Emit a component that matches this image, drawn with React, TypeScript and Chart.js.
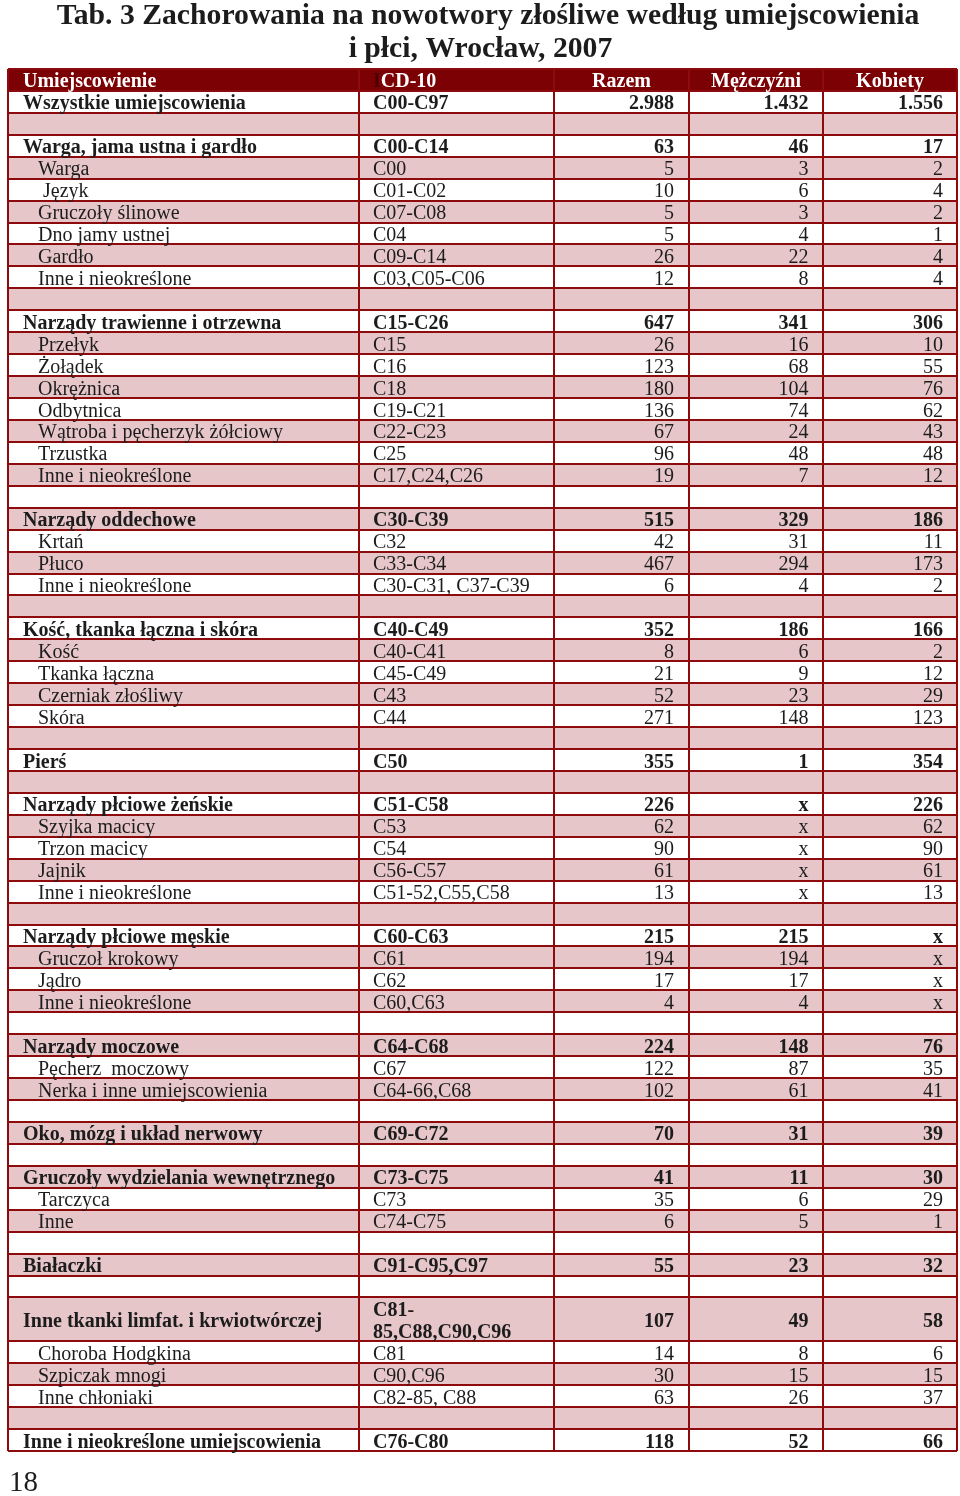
import React, { useEffect, useRef } from "react";
import { Chart, registerables } from "chart.js";

Chart.register(...registerables);

// ---------- data ----------
const TITLE_LINES = [
  "Tab. 3 Zachorowania na nowotwory złośliwe według umiejscowienia",
  "i płci, Wrocław, 2007",
];
const HEADERS = ["Umiejscowienie", "ICD-10", "Razem", "Mężczyźni", "Kobiety"];
const PAGE_NUMBER = "18";

const SITES = [
  "Wszystkie umiejscowienia", "",
  "Warga, jama ustna i gardło", "Warga", " Język", "Gruczoły ślinowe", "Dno jamy ustnej", "Gardło", "Inne i nieokreślone", "",
  "Narządy trawienne i otrzewna", "Przełyk", "Żołądek", "Okrężnica", "Odbytnica", "Wątroba i pęcherzyk żółciowy", "Trzustka", "Inne i nieokreślone", "",
  "Narządy oddechowe", "Krtań", "Płuco", "Inne i nieokreślone", "",
  "Kość, tkanka łączna i skóra", "Kość", "Tkanka łączna", "Czerniak złośliwy", "Skóra", "",
  "Pierś", "",
  "Narządy płciowe żeńskie", "Szyjka macicy", "Trzon macicy", "Jajnik", "Inne i nieokreślone", "",
  "Narządy płciowe męskie", "Gruczoł krokowy", "Jądro", "Inne i nieokreślone", "",
  "Narządy moczowe", "Pęcherz  moczowy", "Nerka i inne umiejscowienia", "",
  "Oko, mózg i układ nerwowy", "",
  "Gruczoły wydzielania wewnętrznego", "Tarczyca", "Inne", "",
  "Białaczki", "",
  "Inne tkanki limfat. i krwiotwórczej", "Choroba Hodgkina", "Szpiczak mnogi", "Inne chłoniaki", "",
  "Inne i nieokreślone umiejscowienia",
];

// 0 = group row, 1 = sub-item, -1 = empty spacer row
const LEVELS = [
  0, -1,
  0, 1, 1, 1, 1, 1, 1, -1,
  0, 1, 1, 1, 1, 1, 1, 1, -1,
  0, 1, 1, 1, -1,
  0, 1, 1, 1, 1, -1,
  0, -1,
  0, 1, 1, 1, 1, -1,
  0, 1, 1, 1, -1,
  0, 1, 1, -1,
  0, -1,
  0, 1, 1, -1,
  0, -1,
  0, 1, 1, 1, -1,
  0,
];

const CODES = [
  "C00-C97", "",
  "C00-C14", "C00", "C01-C02", "C07-C08", "C04", "C09-C14", "C03,C05-C06", "",
  "C15-C26", "C15", "C16", "C18", "C19-C21", "C22-C23", "C25", "C17,C24,C26", "",
  "C30-C39", "C32", "C33-C34", "C30-C31, C37-C39", "",
  "C40-C49", "C40-C41", "C45-C49", "C43", "C44", "",
  "C50", "",
  "C51-C58", "C53", "C54", "C56-C57", "C51-52,C55,C58", "",
  "C60-C63", "C61", "C62", "C60,C63", "",
  "C64-C68", "C67", "C64-66,C68", "",
  "C69-C72", "",
  "C73-C75", "C73", "C74-C75", "",
  "C91-C95,C97", "",
  "C81-\n85,C88,C90,C96", "C81", "C90,C96", "C82-85, C88", "",
  "C76-C80",
];

type Cell = number | "x" | null;

const TOTAL: Cell[] = [
  2988, null,
  63, 5, 10, 5, 5, 26, 12, null,
  647, 26, 123, 180, 136, 67, 96, 19, null,
  515, 42, 467, 6, null,
  352, 8, 21, 52, 271, null,
  355, null,
  226, 62, 90, 61, 13, null,
  215, 194, 17, 4, null,
  224, 122, 102, null,
  70, null,
  41, 35, 6, null,
  55, null,
  107, 14, 30, 63, null,
  118,
];

const MEN: Cell[] = [
  1432, null,
  46, 3, 6, 3, 4, 22, 8, null,
  341, 16, 68, 104, 74, 24, 48, 7, null,
  329, 31, 294, 4, null,
  186, 6, 9, 23, 148, null,
  1, null,
  "x", "x", "x", "x", "x", null,
  215, 194, 17, 4, null,
  148, 87, 61, null,
  31, null,
  11, 6, 5, null,
  23, null,
  49, 8, 15, 26, null,
  52,
];

const WOMEN: Cell[] = [
  1556, null,
  17, 2, 4, 2, 1, 4, 4, null,
  306, 10, 55, 76, 62, 43, 48, 12, null,
  186, 11, 173, 2, null,
  166, 2, 12, 29, 123, null,
  354, null,
  226, 62, 90, 61, 13, null,
  "x", "x", "x", "x", null,
  76, 35, 41, null,
  39, null,
  30, 29, 1, null,
  32, null,
  58, 6, 15, 37, null,
  66,
];

// ---------- layout / style ----------
const COL_EDGES = [0, 351, 546, 681, 815, 949];
const TABLE_W = COL_EDGES[COL_EDGES.length - 1];
const NUM_PAD = [15, 14.5, 14];
const LINE = "#8d0a0d";
const HEAD_BG = "#7c0104";
const PINK = "#e7c6ca";
const INK = "#1c1c1c";
const FONT = '"Liberation Serif", "Times New Roman", serif';

function fmt(v: Cell): string {
  if (v === null) return "";
  if (v === "x") return "x";
  const s = String(v);
  return s.length > 3 ? s.slice(0, s.length - 3) + "." + s.slice(-3) : s;
}

// slot list: header slot, then body rows; a two-line row takes two slots
type Slot = { kind: "header" | "row" | "cont"; row: number };
const SLOTS: Slot[] = [{ kind: "header", row: -1 }];
SITES.forEach((_, r) => {
  SLOTS.push({ kind: "row", row: r });
  if (CODES[r].includes("\n")) SLOTS.push({ kind: "cont", row: r });
});
const SLOT_KEYS = SLOTS.map((s, i) => (s.kind === "header" ? "header" : `${s.kind}-${s.row}-${i}`));

const tablePlugin = {
  id: "tableText",
  afterDraw(chart: any) {
    const { ctx, scales } = chart;
    const x = scales.x;
    const y = scales.y;
    const px = (v: number) => x.getPixelForValue(v);
    const cy = (i: number) => y.getPixelForValue(i);
    ctx.save();

    // title
    ctx.fillStyle = INK;
    ctx.textAlign = "center";
    ctx.textBaseline = "alphabetic";
    ctx.font = `bold 29.7px ${FONT}`;
    ctx.fillText(TITLE_LINES[0], 488, 23.5);
    ctx.fillText(TITLE_LINES[1], 480.5, 57);

    // header
    const hb = cy(0) + 7;
    ctx.font = `bold 20px ${FONT}`;
    ctx.fillStyle = "#ffffff";
    ctx.textAlign = "left";
    ctx.fillText(HEADERS[0], px(COL_EDGES[0]) + 15, hb);
    const icdX = px(COL_EDGES[1]) + 14;
    ctx.fillStyle = "#4a0002";
    ctx.fillText(HEADERS[1].slice(0, 1), icdX, hb);
    const iw = ctx.measureText(HEADERS[1].slice(0, 1)).width;
    ctx.fillStyle = "#ffffff";
    ctx.fillText(HEADERS[1].slice(1), icdX + iw, hb);
    ctx.textAlign = "center";
    for (let k = 2; k < 5; k++) {
      const c = (px(COL_EDGES[k]) + px(COL_EDGES[k + 1])) / 2;
      ctx.fillText(HEADERS[k], c, hb);
    }

    // body
    ctx.fillStyle = INK;
    SLOTS.forEach((s, i) => {
      if (s.kind !== "row") return;
      const r = s.row;
      if (LEVELS[r] < 0) return;
      const bold = LEVELS[r] === 0;
      ctx.font = `${bold ? "bold " : ""}20px ${FONT}`;
      const codeLines = CODES[r].split("\n");
      const base =
        codeLines.length > 1
          ? (cy(i) + cy(i + codeLines.length - 1)) / 2 + 8
          : cy(i) + 7.5;
      ctx.textAlign = "left";
      ctx.fillText(SITES[r], px(COL_EDGES[0]) + (bold ? 15 : 30), base);
      codeLines.forEach((ln, j) => {
        const b = codeLines.length > 1 ? cy(i + j) + 8 : base;
        ctx.fillText(ln, px(COL_EDGES[1]) + 14, b);
      });
      ctx.textAlign = "right";
      [TOTAL, MEN, WOMEN].forEach((arr, k) => {
        ctx.fillText(fmt(arr[r]), px(COL_EDGES[k + 3]) - NUM_PAD[k], base);
      });
    });

    // page number
    ctx.textAlign = "left";
    ctx.font = `29px ${FONT}`;
    ctx.fillText(PAGE_NUMBER, 9, 1491);
    ctx.restore();
  },
};

export default function App() {
  const ref = useRef<HTMLCanvasElement | null>(null);
  useEffect(() => {
    if (!ref.current) return;
    const hiddenLines = SLOTS.map((s, i) => (s.kind === "cont" ? i : -1)).filter((i) => i >= 0);
    const chart = new Chart(ref.current, {
      type: "bar",
      data: {
        labels: SLOT_KEYS,
        datasets: [
          {
            label: "header",
            data: SLOTS.map((s) => (s.kind === "header" ? [0, TABLE_W] : null)) as any,
            backgroundColor: HEAD_BG,
            barPercentage: 1,
            categoryPercentage: 1,
            grouped: false,
            borderWidth: 0,
          },
          {
            label: "stripes",
            data: SLOTS.map((s) => (s.kind !== "header" && s.row % 2 === 1 ? [0, TABLE_W] : null)) as any,
            backgroundColor: PINK,
            barPercentage: 1,
            categoryPercentage: 1,
            grouped: false,
            borderWidth: 0,
          },
        ],
      },
      options: {
        indexAxis: "y",
        animation: false,
        responsive: false,
        maintainAspectRatio: false,
        events: [],
        layout: { padding: { left: 8, right: 3, top: 69, bottom: 45 } },
        plugins: {
          legend: { display: false },
          tooltip: { enabled: false },
          title: { display: false },
        },
        scales: {
          x: {
            type: "linear",
            min: 0,
            max: TABLE_W,
            afterBuildTicks: (scale: any) => {
              scale.ticks = COL_EDGES.map((v) => ({ value: v }));
            },
            ticks: { display: false },
            grid: { color: LINE, lineWidth: 2, drawTicks: false, z: 1 } as any,
            border: { display: false },
          },
          y: {
            type: "category",
            offset: true,
            ticks: { display: false, autoSkip: false },
            grid: {
              offset: true,
              lineWidth: 2,
              drawTicks: false,
              z: 1,
              color: (c: any) =>
                typeof c.index === "number" && hiddenLines.includes(c.index) ? "rgba(0,0,0,0)" : LINE,
            } as any,
            border: { display: false },
          },
        },
      } as any,
      plugins: [tablePlugin],
    });
    return () => chart.destroy();
  }, []);

  return (
    <div style={{ position: "absolute", left: 0, top: 0, width: 960, height: 1496, background: "#ffffff" }}>
      <canvas ref={ref} width={960} height={1496} style={{ width: 960, height: 1496, display: "block" }} />
    </div>
  );
}
